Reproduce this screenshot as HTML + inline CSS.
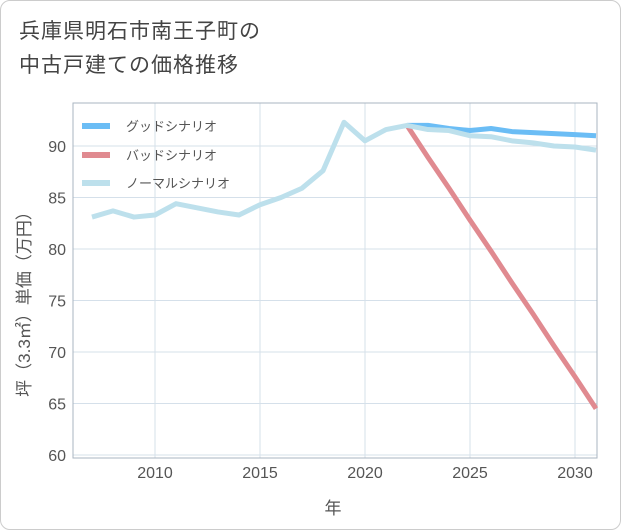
<!DOCTYPE html>
<html><head><meta charset="utf-8"><style>
body{margin:0;background:#fff;font-family:"Liberation Sans","Noto Sans CJK JP",sans-serif;}
#wrap{position:relative;width:619px;height:528px;border:1px solid #ccc;border-radius:10px;overflow:hidden;background:#fff}
#title{position:absolute;left:18px;top:14px;font-size:21px;line-height:34px;color:#444;letter-spacing:1px}
</style></head><body>
<div id="wrap">
<div id="title">兵庫県明石市南王子町の<br>中古戸建ての価格推移</div>
<svg id="chart" width="621" height="530" style="position:absolute;left:-1px;top:-1px"></svg>
</div>
<script>
const years=[2007,2008,2009,2010,2011,2012,2013,2014,2015,2016,2017,2018,2019,2020,2021,2022,2023,2024,2025,2026,2027,2028,2029,2030,2031];
const normal=[83.1,83.7,83.1,83.3,84.4,84.0,83.6,83.3,84.3,85.0,85.9,87.6,92.3,90.5,91.6,92.0,91.6,91.5,91.0,90.9,90.5,90.3,90.0,89.9,89.6];
const goodYears=[2022,2023,2024,2025,2026,2027,2028,2029,2030,2031];
const good=[92.0,92.0,91.7,91.5,91.7,91.4,91.3,91.2,91.1,91.0];
const bad=[92.0,88.9,85.9,82.8,79.8,76.7,73.7,70.6,67.6,64.5];
const xTicks=[2010,2015,2020,2025,2030];
const yTicks=[60,65,70,75,80,85,90];
const NS='http://www.w3.org/2000/svg';
const svg=document.getElementById('chart');
const L=73,R=597,T=103,B=458;
const x=v=>155+(v-2010)*21;
const y=v=>146+(90-v)*10.3;
function mk(t,a){const e=document.createElementNS(NS,t);for(const k in a)e.setAttribute(k,a[k]);svg.appendChild(e);return e;}
xTicks.forEach(t=>{const g=mk('line',{x1:x(t),x2:x(t),y1:T,y2:B,stroke:'#d5e0ea','stroke-width':1});


const l=mk('text',{x:x(t),y:478,'text-anchor':'middle','font-size':16,fill:'#555'});l.textContent=t;

});
yTicks.forEach(t=>{const g=mk('line',{x1:L,x2:R,y1:y(t),y2:y(t),stroke:'#d5e0ea','stroke-width':1});


const l=mk('text',{x:66,y:y(t)+6,'text-anchor':'end','font-size':16,fill:'#555'});l.textContent=t;

});
const fr=mk('rect',{x:L,y:T,width:R-L,height:B-T,fill:'none',stroke:'#aab5c0','stroke-width':1});


function line(xs,vs,c,name){const p=mk('polyline',{points:xs.map((v,i)=>x(v)+','+y(vs[i])).join(' '),fill:'none',stroke:c,'stroke-width':5,'stroke-linejoin':'round'});

}
const cp=mk('clipPath',{id:'cp'});const cr=document.createElementNS(NS,'rect');cr.setAttribute('x',L);cr.setAttribute('y',T);cr.setAttribute('width',R-L);cr.setAttribute('height',B-T);cp.appendChild(cr);
line(goodYears,good,'#6bbdf5','good-scenario-line');
line(goodYears,bad,'#e08a90','bad-scenario-line');
line(years,normal,'#bde0ec','normal-scenario-line');
[['グッドシナリオ','#6bbdf5',126],['バッドシナリオ','#e08a90',155],['ノーマルシナリオ','#bde0ec',183]].forEach(([t,c,yy])=>{
const s=mk('line',{x1:82,x2:110,y1:yy,y2:yy,stroke:c,'stroke-width':6});


const l=mk('text',{x:126,y:yy+5,'font-size':13,fill:'#555'});l.textContent=t;

});
const xt=mk('text',{x:333,y:514,'text-anchor':'middle','font-size':17,fill:'#555'});xt.textContent='年';


const yt=mk('text',{x:0,y:0,'text-anchor':'middle','font-size':17,fill:'#555',transform:'translate(30,300) rotate(-90)'});yt.textContent='坪（3.3㎡）単価（万円）';


</script>
</body></html>
